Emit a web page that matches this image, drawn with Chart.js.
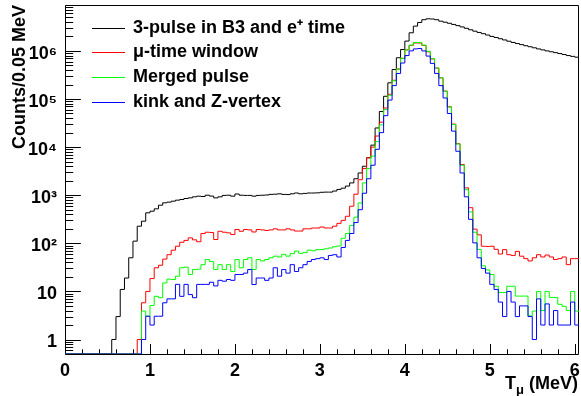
<!DOCTYPE html>
<html>
<head>
<meta charset="utf-8">
<script src="https://cdn.jsdelivr.net/npm/chart.js@4.4.1/dist/chart.umd.min.js"></script>
<style>
html,body{margin:0;padding:0;background:#ffffff;}
#wrap{width:581px;height:396px;position:relative;}
</style>
</head>
<body>
<div id="wrap"><canvas id="c" width="581" height="396"></canvas></div>
<script>
// ---------------- data ----------------
const binWidth = 0.05;            // MeV per bin
const xMin = 0, xMax = 6.05;
const yMin = 0.5, yMax = 9e6;
const xTickValues = [0, 1, 2, 3, 4, 5, 6];
const yTickValues = [1, 10, 100, 1000, 10000, 100000, 1000000];
const yTickLabels = ['1', '10', '10²', '10³', '10⁴', '10⁵', '10⁶'];
const seriesNames = ['3-pulse in B3 and e⁺ time', 'μ-time window', 'Merged pulse', 'kink and Z-vertex'];
const seriesColors = ['#000000', '#ff0000', '#00ff00', '#0000ff'];

// counts per 0.05 MeV bin, bins 0..120 (0.00-6.05 MeV)
const threePulse = [
  0,0,0,0,0,0,0,0,0,0, 0,1,3,11,19,50,111,227,288,430,
  465,521,620,695,718,752,789,815,854,881, 925,955,940,1000,960,880,925,990,1000,955,
  1060,1000,990,990,955,990,1000,1010,1040,1050, 1070,1040,1030,1070,1110,1070,1090,1110,1110,1120,
  1150,1160,1160,1220,1320,1400,1550,1800,2200,2900, 4000,6000,11000,25000,55000,114000,217000,410000,720000,1070000,
  1600000,2380000,3270000,3900000,4450000,4650000,4600000,4450000,4150000,3950000,
  3750000,3550000,3350000,3150000,2950000,2750000,2570000,2420000,2280000,2140000,
  2000000,1900000,1790000,1690000,1590000,1500000,1420000,1350000,1280000,1220000,
  1160000,1100000,1050000,1000000,960000,920000,880000,840000,800000,770000, 740000
];
const muTimeWindow = [
  0,0,0,0,0,0,0,0,0,0, 0,0,0,0,0,0,0,1,5.8,10,
  18.5,31,35,47,58,72,87,105,115,130, 118,108,160,170,168,120,178,170,165,152,
  194,178,194,190,172,194,190,185,190,200, 190,190,200,190,180,180,200,200,208,208,
  218,208,208,227,260,300,365,590,1050,2100, 3600,6000,10000,17000,33000,65000,125000,245000,420000,700000,
  1050000,1300000,1460000,1460000,1300000,960000,680000,440000,275000,146000,
  69000,30000,11800,4350,1420,550,197,150,87,86,
  87,75,60,74,58,56,68,54,48,43, 50,58,52,57,52,46,48,52,36,48, 48
];
const mergedPulse = [
  0,0,0,0,0,0,0,0,0,0, 0,0,0,0,0,0,0,0,3.9,3.05,
  5.1,7.9,7.4,15,18,17.7,20.7,31,32,22.5, 28.5,29,36,46,42,28.5,36,28.5,36,26,
  46,31,46,50,28.5,46,43,46,50,54, 52,59,54,61,69,62,64,72,70,74,
  74,77,80,85,88,127,160,235,350,690, 1800,3600,6500,13000,29000,60000,120000,240000,420000,700000,
  1050000,1320000,1500000,1500000,1320000,980000,690000,440000,275000,145000,
  68000,29500,11600,4200,1300,450,170,74,34,28,
  22.5,12.8,9.5,9.5,12.8,12.8,8,8,8,3.1, 3.9,10,4,10,7.5,7.5,5.4,4.9,4,10, 3.9
];
const kinkZVertex = [
  0,0,0,0,0,0,0,0,0,0, 0,0,0,0,0,0,0,0,1,3.05,
  2,3.05,3.05,5.8,7,7,14,7.9,14,8.6, 7.4,14,14,14,15.5,13,17,16.3,17.7,17,
  22.5,22.5,24,28.5,13.9,19,19,17,19,31, 20.7,28.5,24,36,26,31,36,42,46,48,
  50,46,56,58,52,82,115,160,270,500, 1100,2200,4200,9000,20000,45000,95000,190000,340000,560000,
  800000,1000000,1100000,1120000,1000000,780000,550000,340000,190000,105000,
  50000,21500,8200,2900,925,315,102,50,30,24,
  14,11,6,3,10,6,3,5,5,3, 1,7,2,5.5,2,4,2,2,2,6, 2
];
const seriesValues = [threePulse, muTimeWindow, mergedPulse, kinkZVertex];

// ---------------- chart ----------------
const FONT = "'Liberation Sans', Arial, Helvetica, sans-serif";

function histPoints(vals) {
  const pts = vals.map((v, i) => ({x: i * binWidth, y: v > 0 ? v : yMin}));
  const last = vals[vals.length - 1];
  pts.push({x: vals.length * binWidth, y: last > 0 ? last : yMin});
  return pts;
}

const datasets = seriesValues.map((vals, i) => ({
  label: seriesNames[i],
  data: histPoints(vals),
  borderColor: seriesColors[i],
  backgroundColor: seriesColors[i],
  borderWidth: 1,
  pointRadius: 0,
  pointHoverRadius: 0,
  stepped: 'before',
  fill: false,
  tension: 0,
  order: 4 - i
}));

const rootStyle = {
  id: 'rootStyle',
  beforeDatasetsDraw(chart) {
    const {ctx, chartArea: a, scales} = chart;
    const xs = scales.x, ys = scales.y;
    ctx.save();
    ctx.strokeStyle = '#000000';
    ctx.lineWidth = 1;
    const L = Math.round(a.left) + 0.5, R = Math.round(a.right) - 0.5;
    const T = Math.round(a.top) + 0.5, B = Math.round(a.bottom) + 0.5;
    ctx.beginPath();
    ctx.rect(L, T, R - L, B - T);
    ctx.stroke();
    // x ticks (inside)
    const xMajor = (a.bottom - a.top) * 0.03;
    ctx.beginPath();
    for (let k = 0; k <= 30; k++) {
      const v = k * 0.2;
      if (v > xMax) break;
      const px = Math.round(xs.getPixelForValue(v)) + 0.5;
      const len = (k % 5 === 0) ? xMajor : xMajor / 2;
      ctx.moveTo(px, B);
      ctx.lineTo(px, B - len);
    }
    ctx.stroke();
    // y ticks (inside)
    const yMajor = (a.right - a.left) * 0.03;
    ctx.beginPath();
    for (let e = -1; e <= 6; e++) {
      for (let m = 1; m <= 9; m++) {
        const v = m * Math.pow(10, e);
        if (v < yMin - 1e-9 || v > yMax + 1e-3) continue;
        const py = Math.round(ys.getPixelForValue(v)) + 0.5;
        const len = (m === 1) ? yMajor : yMajor / 2;
        ctx.moveTo(L, py);
        ctx.lineTo(L + len, py);
      }
    }
    ctx.stroke();
    ctx.restore();
  },
  afterDraw(chart) {
    const {ctx, chartArea: a} = chart;
    ctx.save();
    // legend
    const rows = [28, 52, 77, 102];
    ctx.font = 'bold 18px ' + FONT;
    ctx.textBaseline = 'middle';
    ctx.textAlign = 'left';
    chart.data.datasets.forEach((ds, i) => {
      const y = rows[i] + 0.5;
      ctx.strokeStyle = seriesColors[i];
      ctx.lineWidth = 1;
      ctx.beginPath();
      ctx.moveTo(92, y);
      ctx.lineTo(125, y);
      ctx.stroke();
      ctx.fillStyle = '#000000';
      ctx.fillText(ds.label, 133, y);
    });
    // x-axis title with subscript
    const base = 389;
    const fMain = 'bold 18px ' + FONT, fSub = 'bold 13px ' + FONT;
    ctx.textBaseline = 'alphabetic';
    ctx.font = fMain;
    const wT = ctx.measureText('T').width;
    const wRest = ctx.measureText(' (MeV)').width;
    ctx.font = fSub;
    const wMu = ctx.measureText('μ').width;
    const x0 = a.right - 1 - (wT + wMu + wRest);
    ctx.fillStyle = '#000000';
    ctx.font = fMain; ctx.fillText('T', x0, base);
    ctx.font = fSub; ctx.fillText('μ', x0 + wT, base + 5);
    ctx.font = fMain; ctx.fillText(' (MeV)', x0 + wT + wMu, base);
    ctx.restore();
  }
};

new Chart(document.getElementById('c'), {
  type: 'line',
  data: {datasets},
  options: {
    responsive: false,
    animation: false,
    devicePixelRatio: 1,
    layout: {padding: {top: 5, right: 2, left: 0, bottom: 0}},
    plugins: {legend: {display: false}, tooltip: {enabled: false}},
    scales: {
      x: {
        type: 'linear',
        min: xMin, max: xMax,
        grid: {display: false, drawTicks: false},
        border: {display: false},
        afterBuildTicks: s => { s.ticks = xTickValues.map(v => ({value: v})); s.min = xMin; s.max = xMax; },
        afterFit: s => { s.height = 42; s.paddingLeft = 0; s.paddingRight = 0; s.paddingTop = 0; s.paddingBottom = 0; },
        ticks: {
          autoSkip: false,
          maxRotation: 0,
          padding: 6,
          color: '#000000',
          font: {family: FONT, size: 18, weight: 'bold'},
          callback: v => String(v)
        }
      },
      y: {
        type: 'logarithmic',
        min: yMin, max: yMax,
        grid: {display: false, drawTicks: false},
        border: {display: false},
        afterBuildTicks: s => { s.ticks = yTickValues.map(v => ({value: v})); s.min = yMin; s.max = yMax; },
        afterFit: s => { s.width = 65; s.paddingLeft = 0; s.paddingRight = 0; s.paddingTop = 0; s.paddingBottom = 0; },
        ticks: {
          autoSkip: false,
          padding: 8,
          labelOffset: 3,
          color: '#000000',
          font: {family: FONT, size: 18, weight: 'bold'},
          callback: (v) => { const i = yTickValues.indexOf(v); return i >= 0 ? yTickLabels[i] : ''; }
        },
        title: {
          display: true,
          text: 'Counts/0.05 MeV',
          align: 'end',
          color: '#000000',
          padding: {top: 9, bottom: 0},
          font: {family: FONT, size: 18, weight: 'bold'}
        }
      }
    }
  },
  plugins: [rootStyle]
});
</script>
</body>
</html>
